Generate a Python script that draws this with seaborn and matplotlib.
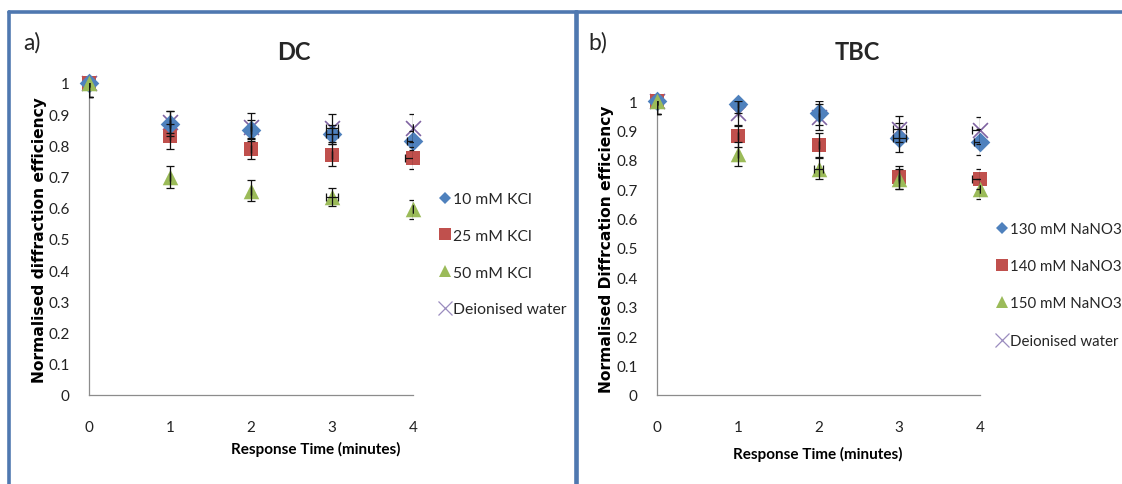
import numpy as np
import pandas as pd
import matplotlib
matplotlib.use("Agg")
import matplotlib.pyplot as plt
from matplotlib.lines import Line2D
import seaborn as sns

sns.set_theme(style="white")
plt.rcParams['font.family'] = ['Lato', 'DejaVu Sans']

time = [0, 1, 2, 3, 4]

# DC panel
dc_labels = ["10 mM KCl", "25 mM KCl", "50 mM KCl", "Deionised water"]
dc_10 = [1.00, 0.870, 0.850, 0.835, 0.815]
dc_25 = [1.00, 0.830, 0.790, 0.770, 0.760]
dc_50 = [1.00, 0.700, 0.655, 0.635, 0.595]
dc_di = [1.00, 0.875, 0.860, 0.855, 0.855]
dc_10_yerr = [0.045, 0.040, 0.030, 0.030, 0.030]
dc_25_yerr = [0.045, 0.040, 0.035, 0.035, 0.035]
dc_50_yerr = [0.045, 0.035, 0.033, 0.030, 0.030]
dc_di_yerr = [0.045, 0.035, 0.045, 0.045, 0.045]
dc_10_xerr = [0, 0, 0, 0.08, 0.08]
dc_25_xerr = [0, 0, 0, 0, 0.10]
dc_50_xerr = [0, 0, 0, 0.07, 0]
dc_di_xerr = [0, 0, 0, 0.08, 0]

# TBC panel
tbc_labels = ["130 mM NaNO3", "140 mM NaNO3", "150 mM NaNO3", "Deionised water"]
tbc_130 = [1.00, 0.990, 0.960, 0.875, 0.860]
tbc_140 = [1.00, 0.880, 0.850, 0.740, 0.735]
tbc_150 = [1.00, 0.820, 0.770, 0.735, 0.700]
tbc_di = [1.00, 0.960, 0.945, 0.905, 0.900]
tbc_130_yerr = [0.045, 0.030, 0.040, 0.050, 0.045]
tbc_140_yerr = [0.045, 0.035, 0.040, 0.040, 0.035]
tbc_150_yerr = [0.045, 0.040, 0.035, 0.035, 0.035]
tbc_di_yerr = [0.045, 0.040, 0.045, 0.045, 0.045]
tbc_130_xerr = [0, 0, 0, 0.08, 0.08]
tbc_140_xerr = [0, 0, 0, 0, 0.10]
tbc_150_xerr = [0, 0, 0.06, 0, 0]
tbc_di_xerr = [0, 0, 0, 0.08, 0.10]

colors = ["#4F81BD", "#C0504D", "#9BBB59", "#8064A2"]
marker_list = ["D", "s", "^", "x"]
sizes = [100, 90, 125, 115]
zorders = [3.0, 2.95, 3.1, 2.9]

W, H = 1122, 485
fig = plt.figure(figsize=(W / 100, H / 100), dpi=100)
fig.patch.set_facecolor("white")

def px_ax(l, r, b, t):
    return fig.add_axes([l / W, 1 - b / H, (r - l) / W, (b - t) / H])

ax1 = px_ax(89, 413, 396, 84)
ax2 = px_ax(657, 980, 396, 102)

def draw_panel(ax, labels, series, yerrs, xerrs, title, ylabel, letter, title_x, letter_x,
               leg_x, leg_y, leg_fs, leg_sp, ylab_x, xlab_x, xlab_y, ax_l, ax_r, ax_b, ax_t):
    frames = []
    for lab, s in zip(labels, series):
        frames.append(pd.DataFrame({"time": time, "value": s, "series": lab}))
    df = pd.concat(frames, ignore_index=True)
    for i, (lab, s, ye, xe) in enumerate(zip(labels, series, yerrs, xerrs)):
        ax.errorbar(time, s, yerr=ye, xerr=xe, fmt="none", ecolor="#111111",
                    elinewidth=0.9, capsize=3, capthick=0.9, zorder=6, clip_on=True)
    for i, lab in enumerate(labels):
        sub = df[df["series"] == lab]
        kw = dict(color=colors[i], marker=marker_list[i], s=sizes[i], ax=ax, legend=False,
                  zorder=zorders[i], clip_on=False)
        if marker_list[i] == "x":
            kw["linewidth"] = 1.2
        else:
            kw["edgecolor"] = colors[i]
            kw["linewidth"] = 0
        sns.scatterplot(data=sub, x="time", y="value", **kw)
    ax.set_xlim(0, 4)
    ax.set_ylim(0, 1)
    ax.set_xticks(time)
    ax.set_yticks(np.round(np.arange(0, 1.01, 0.1), 1))
    ax.set_yticklabels(["0", "0.1", "0.2", "0.3", "0.4", "0.5", "0.6", "0.7", "0.8", "0.9", "1"])
    ax.tick_params(axis="both", length=0, labelsize=11, colors="#222222")
    ax.tick_params(axis="x", pad=18)
    ax.tick_params(axis="y", pad=14)
    for sp in ["top", "right"]:
        ax.spines[sp].set_visible(False)
    for sp in ["left", "bottom"]:
        ax.spines[sp].set_color("#8c8c8c")
        ax.spines[sp].set_linewidth(0.9)
    ax.set_xlabel("Response Time (minutes)", fontsize=11, fontweight="bold", color="black")
    ax.set_ylabel(ylabel, fontsize=11.2, fontweight="bold", color="black", family="DejaVu Sans")
    w_px = ax_r - ax_l
    h_px = ax_b - ax_t
    ax.yaxis.set_label_coords((ylab_x - ax_l) / w_px, 0.5)
    ax.xaxis.set_label_coords((xlab_x - ax_l) / w_px, (ax_b - xlab_y) / h_px)
    ax.xaxis.label.set_va("center")
    ax.yaxis.label.set_va("center")
    ax.set_facecolor("white")
    ax.grid(False)
    fig.text(title_x / W, 1 - 53 / H, title, fontsize=17, fontweight="bold", ha="center", va="center")
    fig.text(letter_x / W, 1 - 43 / H, letter, fontsize=16.5, ha="left", va="center")
    handles = []
    for i, lab in enumerate(labels):
        if marker_list[i] == "x":
            h = Line2D([], [], linestyle="none", marker="x", color="#9a8cbf", markersize=9.5, markeredgewidth=0.9)
        else:
            ms = {"D": 6.5, "s": 8.5, "^": 8.5}[marker_list[i]]
            h = Line2D([], [], linestyle="none", marker=marker_list[i], color=colors[i], markersize=ms, markeredgewidth=0)
        handles.append(h)
    fig.legend(handles, labels, loc="upper left", bbox_to_anchor=(leg_x / W, 1 - leg_y / H),
               frameon=False, fontsize=leg_fs, labelspacing=leg_sp, handlelength=0.7,
               handletextpad=0.15, borderpad=0, borderaxespad=0)

draw_panel(ax1, dc_labels, [dc_10, dc_25, dc_50, dc_di],
           [dc_10_yerr, dc_25_yerr, dc_50_yerr, dc_di_yerr],
           [dc_10_xerr, dc_25_xerr, dc_50_xerr, dc_di_xerr],
           "DC", "Normalised diffraction efficiency", "a)", 294, 23, 440, 193, 11.3, 1.45,
           40, 316, 449, 89, 413, 396, 84)
draw_panel(ax2, tbc_labels, [tbc_130, tbc_140, tbc_150, tbc_di],
           [tbc_130_yerr, tbc_140_yerr, tbc_150_yerr, tbc_di_yerr],
           [tbc_130_xerr, tbc_140_xerr, tbc_150_xerr, tbc_di_xerr],
           "TBC", "Normalised Diffrcation efficiency", "b)", 857, 588, 997, 223, 10.8, 1.55,
           606, 818, 454, 657, 980, 396, 102)

# panel frames
border = "#4F78B0"
lw = 2.6
for (x0, x1) in [(9, 577), (576, 1130)]:
    fig.add_artist(Line2D([x0 / W, x0 / W], [1 - 13 / H, -0.01], color=border, lw=lw, transform=fig.transFigure))
    fig.add_artist(Line2D([x0 / W, x1 / W], [1 - 13 / H, 1 - 13 / H], color=border, lw=lw, transform=fig.transFigure))
fig.add_artist(Line2D([577 / W, 577 / W], [1 - 13 / H, -0.01], color=border, lw=lw, transform=fig.transFigure))

fig.savefig("out.png", dpi=100, facecolor="white")
